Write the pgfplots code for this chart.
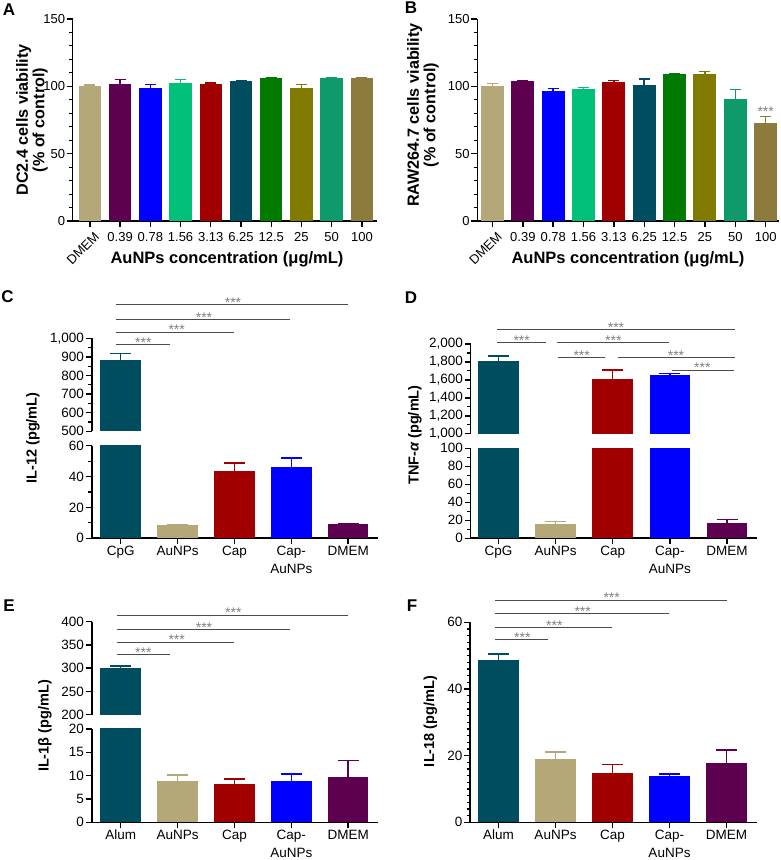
\documentclass[border=0pt]{standalone}
\usepackage{fontspec}
\setmainfont{Liberation Sans}
\usepackage{pgfplots}
\pgfplotsset{compat=1.18}

\definecolor{cTan}{HTML}{B5A878}
\definecolor{cPurp}{HTML}{5E0050}
\definecolor{cBlue}{HTML}{0000FF}
\definecolor{cLgreen}{HTML}{00C07A}
\definecolor{cRed}{HTML}{A00000}
\definecolor{cTeal}{HTML}{004D60}
\definecolor{cGreen}{HTML}{007A00}
\definecolor{cOlive}{HTML}{807A00}
\definecolor{cSgreen}{HTML}{0E9A6A}
\definecolor{cBrown}{HTML}{8C7B3C}

\pgfplotsset{
  panel/.style={
    scale only axis, anchor=south west,
    ybar, bar shift=0pt,
    axis x line*=bottom, axis y line*=left,
    axis line style={line width=1.6pt, black},
    tick align=outside,
    major tick length=6pt, minor tick length=3.5pt,
    major tick style={line width=1.4pt, black},
    minor tick style={line width=1.1pt, black},
    enlargelimits=false,
    tick label style={font=\fontsize{13}{14}\selectfont},
    yticklabel style={inner sep=1.5pt},
    xticklabel style={inner sep=2pt},
    /pgf/number format/assume math mode=true,
    /pgf/number format/1000 sep={,},
  },
  viab/.style={
    panel, ymin=0, ymax=150, ytick={0,50,100,150}, minor y tick num=4,
    xtick={1,...,9}, xticklabels={0.39,0.78,1.56,3.13,6.25,12.5,25,50,100},
    xticklabel style={yshift=-3.5pt},
    extra x ticks={0}, extra x tick labels={DMEM},
    extra x tick style={tick label style={rotate=45, anchor=north east, xshift=2pt}},
  },
  cyto/.style={
    panel, xmin=-0.5, xmax=4.52, bar width=40.5pt,
    xtick={0,...,4},
    tick label style={font=\fontsize{13.5}{18.5}\selectfont},
    xticklabel style={align=center, inner sep=1.5pt},
  },
  upper/.style={cyto, axis x line=none, xtick=\empty},
  bb/.style n args={2}{fill=#1, draw=none,
    /pgfplots/error bars/y dir=plus, /pgfplots/error bars/y explicit,
    /pgfplots/error bars/error bar style={#1, line width=1.5pt},
    /pgfplots/error bars/error mark options={#1, rotate=90, line width=1.5pt, mark size=#2}},
}

\tikzset{
  sigline/.style={draw=black!70, line width=0.9pt},
  sigstar/.style={text=black!50, font=\fontsize{14}{14}\selectfont, anchor=base, inner sep=0pt, yshift=-3pt},
  lab/.style={font=\fontsize{17}{17}\selectfont\bfseries},
  xlab/.style={font=\fontsize{16.5}{17}\selectfont\bfseries},
  ylab/.style={font=\fontsize{16.2}{16.5}\selectfont\bfseries, rotate=90, align=center},
  clab/.style={font=\fontsize{14.5}{15}\selectfont\bfseries, rotate=90},
}
\newcommand\sig[4]{\draw[sigline] (#2,#1) -- (#3,#1); \node[sigstar] at (#4,#1) {***};}

\begin{document}
\begin{tikzpicture}[x=1pt,y=1pt]
\path[use as bounding box] (0,0) rectangle (781,860);

% ---------- A ----------
\begin{axis}[viab, at={(72.7pt,639pt)}, width=304pt, height=202pt,
  xmin=-0.57, xmax=9.49, bar width=22.5pt]
\addplot[bb={cTan}{5.5pt}]    coordinates {(0,100.5) +- (0,0.5)};
\addplot[bb={cPurp}{5.5pt}]   coordinates {(1,102.0) +- (0,3.2)};
\addplot[bb={cBlue}{5.5pt}]   coordinates {(2,98.5) +- (0,2.7)};
\addplot[bb={cLgreen}{5.5pt}] coordinates {(3,102.7) +- (0,2.5)};
\addplot[bb={cRed}{5.5pt}]    coordinates {(4,102.0) +- (0,0.5)};
\addplot[bb={cTeal}{5.5pt}]   coordinates {(5,104.2) +- (0,0.3)};
\addplot[bb={cGreen}{5.5pt}]  coordinates {(6,106.0) +- (0,0.4)};
\addplot[bb={cOlive}{5.5pt}]  coordinates {(7,98.8) +- (0,2.4)};
\addplot[bb={cSgreen}{5.5pt}] coordinates {(8,106.0) +- (0,0.3)};
\addplot[bb={cBrown}{5.5pt}]  coordinates {(9,106.2) +- (0,0.2)};
\end{axis}

% ---------- B ----------
\begin{axis}[viab, at={(477.3pt,639pt)}, width=302pt, height=202pt,
  xmin=-0.5, xmax=9.45, bar width=23pt]
\addplot[bb={cTan}{5.5pt}]    coordinates {(0,100.5) +- (0,1.5)};
\addplot[bb={cPurp}{5.5pt}]   coordinates {(1,104.0) +- (0,0.5)};
\addplot[bb={cBlue}{5.5pt}]   coordinates {(2,96.8) +- (0,1.5)};
\addplot[bb={cLgreen}{5.5pt}] coordinates {(3,97.8) +- (0,1.5)};
\addplot[bb={cRed}{5.5pt}]    coordinates {(4,103.0) +- (0,1.5)};
\addplot[bb={cTeal}{5.5pt}]   coordinates {(5,101.2) +- (0,4.2)};
\addplot[bb={cGreen}{5.5pt}]  coordinates {(6,109.4) +- (0,0.3)};
\addplot[bb={cOlive}{5.5pt}]  coordinates {(7,109.2) +- (0,1.7)};
\addplot[bb={cSgreen}{5.5pt}] coordinates {(8,90.8) +- (0,6.7)};
\addplot[bb={cBrown}{5.5pt}]  coordinates {(9,72.5) +- (0,5.2)};
\end{axis}

% ---------- C ----------
\begin{axis}[upper, at={(91.7pt,428.7pt)}, width=286.6pt, height=93pt,
  xmin=-0.51, xmax=4.53, ymin=500, ymax=1000,
  ytick={500,600,...,1000}, minor y tick num=1]
\addplot[bb={cTeal}{10.5pt}] coordinates {(0,885) +- (0,34)};
\end{axis}
\begin{axis}[cyto, at={(91.7pt,321.7pt)}, width=286.6pt, height=92.6pt,
  xmin=-0.51, xmax=4.53, ymin=0, ymax=60,
  ytick={0,20,40,60}, minor y tick num=1,
  xticklabels={CpG,AuNPs,Cap,{Cap-\\AuNPs},DMEM}]
\addplot[bb={cTeal}{10.5pt}] coordinates {(0,885) +- (0,34)};
\addplot[bb={cTan}{10.5pt}]  coordinates {(1,8.6) +- (0,0.4)};
\addplot[bb={cRed}{10.5pt}]  coordinates {(2,43.6) +- (0,5.2)};
\addplot[bb={cBlue}{10.5pt}] coordinates {(3,46.4) +- (0,5.6)};
\addplot[bb={cPurp}{10.5pt}] coordinates {(4,9.1) +- (0,0.4)};
\end{axis}

% ---------- D ----------
\begin{axis}[upper, at={(470.5pt,426.2pt)}, width=286.2pt, height=89.8pt,
  xmin=-0.49, xmax=4.52, ymin=1000, ymax=2000,
  ytick={1000,1200,...,2000}, minor y tick num=1]
\addplot[bb={cTeal}{10.5pt}] coordinates {(0,1810) +- (0,59)};
\addplot[bb={cRed}{10.5pt}]  coordinates {(2,1612) +- (0,97)};
\addplot[bb={cBlue}{10.5pt}] coordinates {(3,1657) +- (0,15)};
\end{axis}
\begin{axis}[cyto, at={(470.5pt,321.7pt)}, width=286.2pt, height=90pt,
  xmin=-0.49, xmax=4.52, ymin=0, ymax=100,
  ytick={0,20,...,100}, minor y tick num=1,
  xticklabels={CpG,AuNPs,Cap,{Cap-\\AuNPs},DMEM}]
\addplot[bb={cTeal}{10.5pt}] coordinates {(0,1810) +- (0,59)};
\addplot[bb={cTan}{10.5pt}]  coordinates {(1,16.3) +- (0,2.6)};
\addplot[bb={cRed}{10.5pt}]  coordinates {(2,1612) +- (0,97)};
\addplot[bb={cBlue}{10.5pt}] coordinates {(3,1657) +- (0,15)};
\addplot[bb={cPurp}{10.5pt}] coordinates {(4,17.4) +- (0,3.7)};
\end{axis}

% ---------- E ----------
\begin{axis}[upper, at={(91.7pt,145.3pt)}, width=286.6pt, height=93pt,
  xmin=-0.51, xmax=4.53, ymin=200, ymax=400,
  ytick={200,250,...,400}]
\addplot[bb={cTeal}{10.5pt}] coordinates {(0,300.4) +- (0,4.3)};
\end{axis}
\begin{axis}[cyto, at={(91.7pt,37.7pt)}, width=286.6pt, height=93.3pt,
  xmin=-0.51, xmax=4.53, ymin=0, ymax=20,
  ytick={0,5,...,20},
  xticklabels={Alum,AuNPs,Cap,{Cap-\\AuNPs},DMEM}]
\addplot[bb={cTeal}{10.5pt}] coordinates {(0,300.4) +- (0,4.3)};
\addplot[bb={cTan}{10.5pt}]  coordinates {(1,8.86) +- (0,1.28)};
\addplot[bb={cRed}{10.5pt}]  coordinates {(2,8.29) +- (0,1.0)};
\addplot[bb={cBlue}{10.5pt}] coordinates {(3,8.86) +- (0,1.5)};
\addplot[bb={cPurp}{10.5pt}] coordinates {(4,9.64) +- (0,3.56)};
\end{axis}

% ---------- F ----------
\begin{axis}[cyto, at={(470pt,37.7pt)}, width=286.7pt, height=200pt,
  xmin=-0.5, xmax=4.53, ymin=0, ymax=60,
  ytick={0,20,40,60}, minor y tick num=9,
  xticklabels={Alum,AuNPs,Cap,{Cap-\\AuNPs},DMEM}]
\addplot[bb={cTeal}{10.5pt}] coordinates {(0,48.7) +- (0,1.8)};
\addplot[bb={cTan}{10.5pt}]  coordinates {(1,18.9) +- (0,2.2)};
\addplot[bb={cRed}{10.5pt}]  coordinates {(2,14.9) +- (0,2.4)};
\addplot[bb={cBlue}{10.5pt}] coordinates {(3,14.0) +- (0,0.5)};
\addplot[bb={cPurp}{10.5pt}] coordinates {(4,17.9) +- (0,3.8)};
\end{axis}

% ---------- labels ----------
\node[lab] at (9,850) {A};
\node[lab] at (411,852) {B};
\node[lab] at (7.5,563) {C};
\node[lab] at (411,562) {D};
\node[lab] at (9,254) {E};
\node[lab] at (412,254) {F};

\node[ylab] at (32,740) {DC2.4 cells viability\\(\% of control)};
\node[ylab] at (423,745) {RAW264.7 cells viability\\(\% of control)};
\node[xlab] at (227,601) {AuNPs concentration (μg/mL)};
\node[xlab] at (628,601) {AuNPs concentration (μg/mL)};
\node[clab] at (33,422) {IL-12 (pg/mL)};
\node[clab] at (415,425) {TNF-{\itshape α} (pg/mL)};
\node[clab] at (45,134) {IL-1β (pg/mL)};
\node[clab] at (430.5,138.5) {IL-18 (pg/mL)};

\node[sigstar] at (765.7,746) {***};

% C
\sig{555.3}{116}{348.3}{233}
\sig{540.7}{116}{290}{204}
\sig{528}{116}{234.3}{176.7}
\sig{515.7}{116}{170}{143.3}
% D
\sig{530.3}{497.3}{735}{616}
\sig{517.3}{497.3}{546}{521.7}
\sig{517.3}{556.7}{669.3}{613.3}
\sig{502.7}{557.7}{605}{581.7}
\sig{502.7}{617.7}{735}{676}
\sig{490}{671.7}{734}{702.3}
% E
\sig{245}{116.7}{348.3}{233.3}
\sig{230.3}{116.7}{290}{204}
\sig{218}{116.7}{234.3}{176.7}
\sig{205.7}{116.7}{170}{143.3}
% F
\sig{260}{495.3}{726.7}{611.7}
\sig{246.3}{495.3}{669}{582.7}
\sig{232.7}{495.3}{612.3}{554.3}
\sig{220.7}{495.3}{547.7}{522.3}
\end{tikzpicture}
\end{document}
